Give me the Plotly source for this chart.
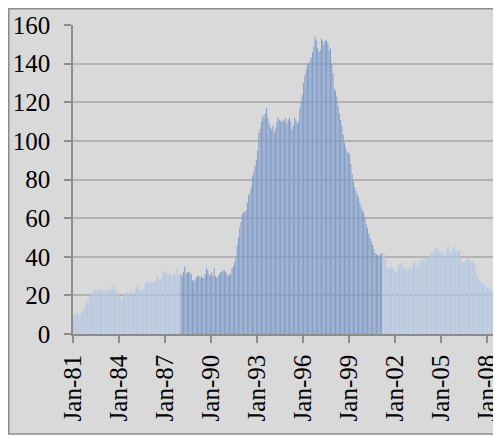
import plotly.graph_objects as go

# monthly values Jan-1981 .. Nov-2008
values = [
    9, 10, 11, 11, 10, 10, 11, 12, 13, 14, 16, 18,          # 1981
    19, 20, 21, 22, 22, 23, 22, 23, 23, 23, 22, 23,         # 1982
    23, 22, 23, 22, 23, 23, 25, 23, 25, 22, 22, 21,         # 1983
    20, 19, 18, 21, 20, 21, 22, 21, 21, 22, 22, 20,         # 1984
    23, 24, 25, 23, 23, 23, 23, 24, 26, 27, 27, 27,         # 1985
    26, 27, 27, 27, 28, 29, 30, 28, 28, 29, 32, 33,         # 1986
    32, 31, 30, 31, 31, 30, 31, 31, 31, 34, 31, 30,         # 1987
    31, 30, 32, 35, 31, 32, 32, 32, 31, 28, 27, 28,         # 1988
    29, 30, 30, 29, 30, 29, 29, 31, 34, 33, 31, 30,         # 1989
    32, 30, 34, 30, 29, 30, 31, 32, 32, 33, 33, 32,         # 1990
    31, 30, 31, 31, 34, 35, 37, 40, 46, 50, 55, 58,         # 1991
    62, 63, 63, 64, 68, 72, 73, 76, 82, 84, 87, 90,         # 1992
    95, 104, 106, 110, 113, 112, 114, 117, 112, 109, 107, 106,  # 1993
    108, 104, 106, 110, 112, 111, 110, 110, 111, 110, 112, 109,  # 1994
    111, 112, 110, 106, 108, 112, 111, 109, 110, 117, 120, 124,  # 1995
    130, 134, 137, 140, 140, 141, 143, 146, 149, 154, 152, 148,  # 1996
    146, 147, 153, 152, 150, 152, 152, 151, 147, 148, 140, 135,  # 1997
    127, 126, 123, 118, 114, 111, 108, 103, 99, 96, 94, 94,      # 1998
    93, 88, 83, 79, 76, 74, 72, 71, 68, 66, 64, 63,         # 1999
    60, 57, 55, 52, 50, 48, 46, 44, 42, 41, 41, 40,         # 2000
    41, 42, 41, 42, 40, 35, 34, 34, 35, 35, 34, 33,         # 2001
    32, 32, 35, 36, 37, 36, 35, 34, 33, 34, 33, 35,         # 2002
    34, 35, 37, 37, 36, 35, 36, 38, 38, 38, 39, 39,         # 2003
    39, 40, 39, 41, 42, 42, 43, 44, 45, 44, 43, 42,         # 2004
    43, 42, 40, 41, 44, 46, 43, 42, 43, 44, 45, 43,         # 2005
    43, 43, 43, 40, 37, 38, 37, 38, 39, 39, 38, 38,         # 2006
    38, 37, 36, 33, 30, 28, 27, 26, 26, 25, 25, 24,         # 2007
    24, 23, 24, 22, 23, 21, 22, 23, 22, 23, 22,             # 2008
]
# highlighted stretch: Jan-88 .. Feb-01 (month index)
hi_start, hi_end = 84, 241
tick_labels = ["Jan-81", "Jan-84", "Jan-87", "Jan-90", "Jan-93",
               "Jan-96", "Jan-99", "Jan-02", "Jan-05", "Jan-08"]

idx = list(range(len(values)))
colors = ["#7f9ecb" if hi_start <= i <= hi_end else "#b6c9e2" for i in idx]

# a hair-thin outline makes plotly snap bars to whole pixels -> striped look
fig = go.Figure(go.Bar(x=idx, y=values, marker_color=colors,
                       marker_line=dict(width=0.02, color=colors)))

# the page body adds an 8px margin, so the figure is 8px smaller than the window
W, H = 493, 429
L, R, T, B = 65, 0, 17, 103
pw, ph = W - L - R, H - T - B

font = dict(family="Liberation Serif, Times New Roman, serif", size=25, color="black")
axcol = "#8c8c8c"

fig.update_layout(
    width=W, height=H, autosize=False,
    margin=dict(l=L, r=R, t=T, b=B, pad=0),
    paper_bgcolor="white", plot_bgcolor="rgba(0,0,0,0)",
    bargap=0.25, showlegend=False, font=font,
    shapes=[dict(type="rect", xref="paper", yref="paper", layer="below",
                 x0=(0.75 - L) / pw, x1=1.1, y0=-(H - 3 - T - ph) / ph, y1=1 + (T - 0.75) / ph,
                 fillcolor="#d9d9d9", line=dict(color=axcol, width=1.5))],
)
fig.update_xaxes(
    range=[-0.5, 334.5], tickvals=[i * 36 - 0.5 for i in range(len(tick_labels))],
    ticktext=tick_labels, tickangle=-90, ticks="outside", ticklen=7, tickwidth=1.5,
    tickcolor=axcol, showline=True, linecolor=axcol, linewidth=1.5, showgrid=False,
    zeroline=False, ticklabelstandoff=2, automargin=False,
)
fig.update_yaxes(
    range=[0, 160], dtick=20, ticks="outside", ticklen=7, tickwidth=1.5, tickcolor=axcol,
    showline=True, linecolor=axcol, linewidth=1.5, showgrid=True, gridcolor="#b3b3b3",
    gridwidth=1.5, zeroline=False, ticklabelstandoff=9, automargin=False,
)

fig.write_html("out.html")
